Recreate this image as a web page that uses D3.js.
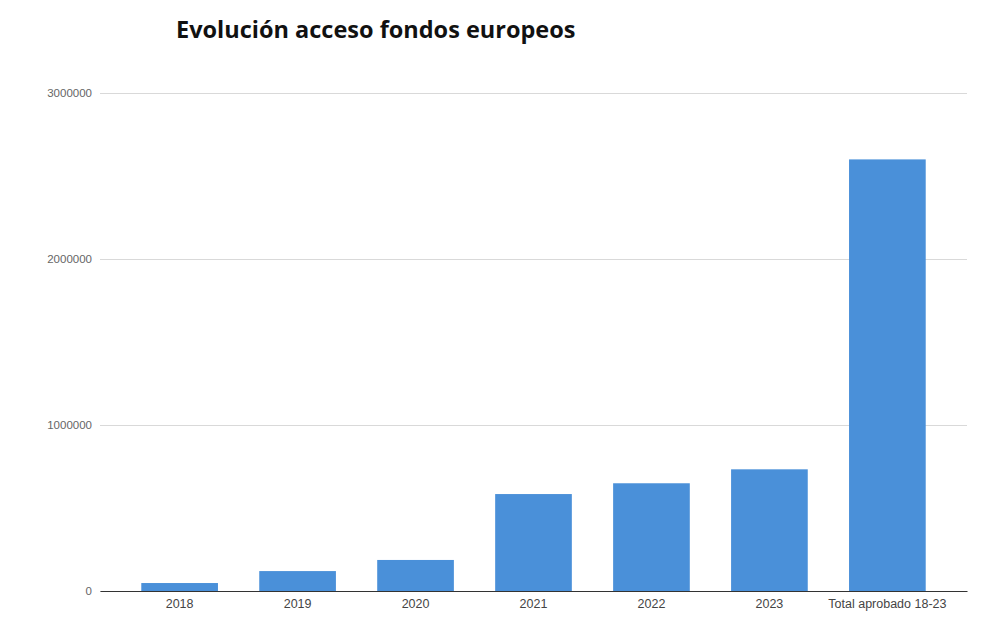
<!DOCTYPE html>
<html>
<head>
<meta charset="utf-8">
<script src="https://cdn.jsdelivr.net/npm/d3@7"></script>
<style>
  body { margin: 0; background: #fff; }
  svg { display: block; font-family: "Open Sans", "DejaVu Sans", sans-serif; }
</style>
</head>
<body>
<svg id="chart" width="982" height="637"></svg>
<script>
const title = "Evolución acceso fondos europeos";
const categories = ["2018", "2019", "2020", "2021", "2022", "2023", "Total aprobado 18-23"];
const values = [48000, 120000, 187000, 584000, 649000, 733000, 2600000];
const yTicks = [0, 1000000, 2000000, 3000000];

const svg = d3.select("#chart");
const mLeft = 100, mRight = 967, mTop = 93, mBottom = 591;

const x = d3.scaleBand().domain(categories).range([mLeft, mRight]).paddingInner(0.35).paddingOuter(0.35);
const y = d3.scaleLinear().domain([0, 3000000]).range([mBottom, mTop]);

// gridlines
const grid = svg.append("g")
  .attr("transform", `translate(${mLeft},0)`)
  .call(d3.axisLeft(y).tickValues(yTicks).tickSize(-(mRight - mLeft)).tickFormat(d => d));
grid.select(".domain").remove();
grid.selectAll(".tick line").attr("stroke", "#d9d9d9").attr("stroke-width", 1);
grid.selectAll(".tick text").attr("x", -8).attr("fill", "#666").attr("font-size", 11.5);

// bars
svg.append("g").selectAll("rect")
  .data(values)
  .join("rect")
  .attr("x", (d, i) => x(categories[i]))
  .attr("width", x.bandwidth())
  .attr("y", d => y(d))
  .attr("height", d => y(0) - y(d))
  .attr("fill", "#4a90d9");

// x axis
const xa = svg.append("g")
  .attr("transform", `translate(0,${mBottom})`)
  .call(d3.axisBottom(x).tickSize(0).tickSizeOuter(0));
xa.select(".domain").attr("stroke", "#333").attr("stroke-width", 1.2);
xa.selectAll(".tick text").attr("dy", "1.15em").attr("fill", "#444").attr("font-size", 12.5);

// title
svg.append("text")
  .attr("x", 176).attr("y", 38)
  .attr("font-size", 23.5).attr("font-weight", "bold").attr("fill", "#111")
  .text(title);
</script>
</body>
</html>
